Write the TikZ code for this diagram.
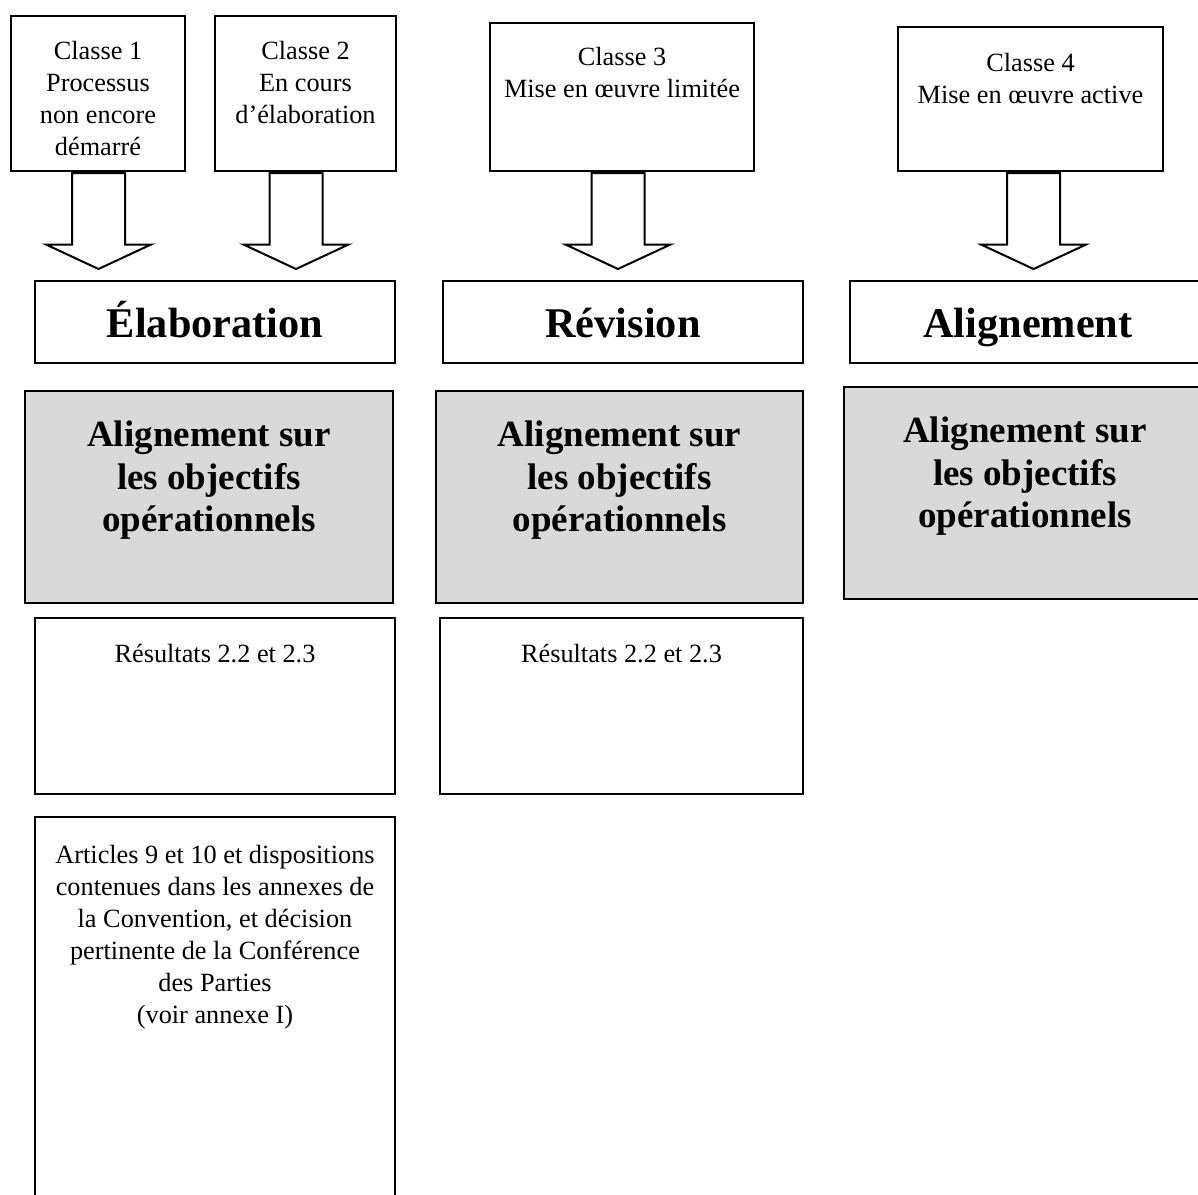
\documentclass[tikz,border=0pt]{standalone}
\usepackage{fontspec}
\setmainfont{Liberation Serif}
\usepackage{xcolor}
\usetikzlibrary{shapes.arrows, positioning}

\definecolor{boxgray}{RGB}{217,217,217}

\newcommand{\boxtext}[4]{\parbox[t][#2][t]{#1}{\centering\vspace*{#3}#4}}

\tikzset{
  classbox/.style={draw, line width=2pt, inner sep=0pt, anchor=north west, font=\fontsize{26.3pt}{32pt}\selectfont},
  stagebox/.style={draw, line width=2pt, inner sep=0pt, anchor=north west, minimum height=82pt, text height=36pt, text depth=6pt, font=\fontsize{42.3pt}{48pt}\selectfont\bfseries},
  goalbox/.style={draw, line width=2pt, fill=boxgray, inner sep=0pt, anchor=north west, font=\fontsize{37pt}{42.5pt}\selectfont\bfseries},
  fatarrow/.style={draw, line width=2pt, fill=white, single arrow, shape border rotate=270, minimum height=96pt, single arrow head extend=26pt, single arrow tip angle=130, inner sep=25.5pt, anchor=tail},
}

\begin{document}
\begin{tikzpicture}[x=1pt, y=-1pt]
    \useasboundingbox (0,0) rectangle (1198,1194);
    \clip (0,0) rectangle (1198,1194);

    % classes
    \node[classbox] (C1) at (10,15) {\boxtext{174pt}{155pt}{25pt}{Classe 1\\Processus\\non encore\\démarré}};
    \node[classbox] (C2) at (214,15) {\boxtext{181pt}{155pt}{25pt}{Classe 2\\En cours\\d’élaboration}};
    \node[classbox] (C3) at (489,22) {\boxtext{264pt}{148pt}{24pt}{Classe 3\\Mise en œuvre limitée}};
    \node[classbox] (C4) at (897,26) {\boxtext{265pt}{144pt}{26pt}{Classe 4\\Mise en œuvre active}};

    \node[fatarrow] (A1) at ([xshift=0.5pt]C1.south) {};
    \node[fatarrow] (A2) at ([xshift=-9.5pt]C2.south) {};
    \node[fatarrow] (A3) at ([xshift=-4pt]C3.south) {};
    \node[fatarrow] (A4) at ([xshift=3pt]C4.south) {};

    % stages
    \node[stagebox, minimum width=360pt] (Elab) at (34,280) {Élaboration};
    \node[stagebox, minimum width=360pt] (Rev) at (442,280) {Révision};
    \node[stagebox, minimum width=356pt] (Align) at (849,280) {Alignement};

    \node[goalbox] (G1) at (24,390) {\boxtext{368pt}{212pt}{30pt}{Alignement sur\\les objectifs\\opérationnels}};
    \node[goalbox] (G2) at (435,390) {\boxtext{367pt}{212pt}{30pt}{Alignement sur\\les objectifs\\opérationnels}};
    \node[goalbox] (G3) at (843,386) {\boxtext{362pt}{212pt}{30pt}{Alignement sur\\les objectifs\\opérationnels}};

    \node[classbox] (R1) at (34,617) {\boxtext{360pt}{176pt}{26pt}{Résultats 2.2 et 2.3}};
    \node[classbox] (R2) at (439,617) {\boxtext{363pt}{176pt}{26pt}{Résultats 2.2 et 2.3}};

    \node[classbox] (Art) at (34,816) {\boxtext{360pt}{389pt}{28pt}{Articles 9 et 10 et dispositions\\contenues dans les annexes de\\la Convention, et décision\\pertinente de la Conférence\\des Parties\\(voir annexe I)}};
\end{tikzpicture}
\end{document}
